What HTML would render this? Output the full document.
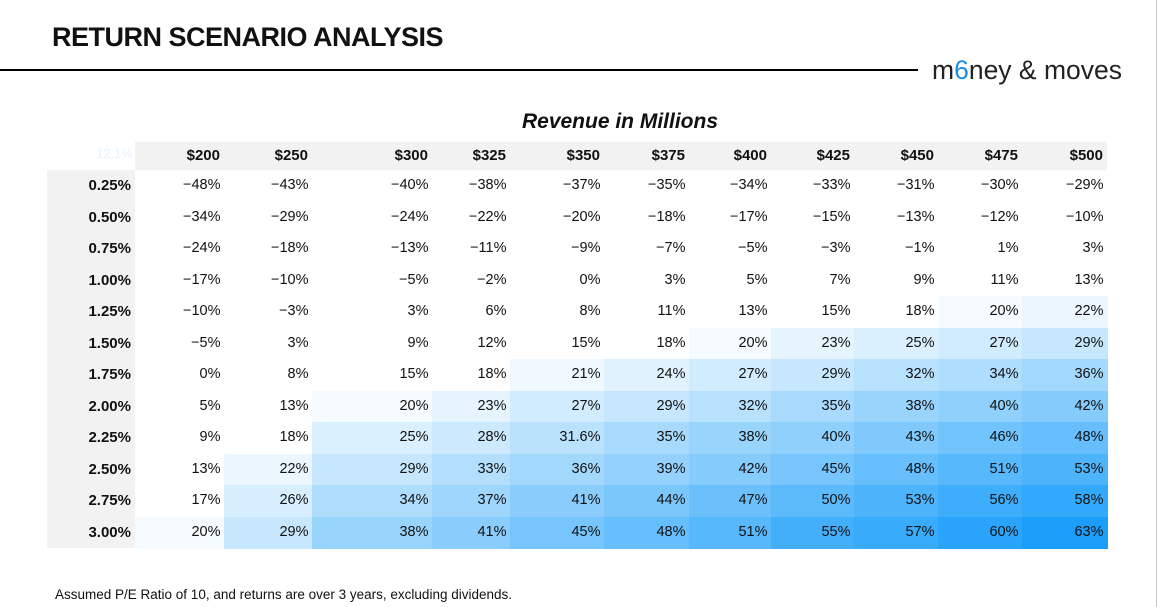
<!DOCTYPE html>
<html><head><meta charset="utf-8">
<style>
body{margin:0;width:1158px;height:607px;background:#fff;font-family:"Liberation Sans",sans-serif;position:relative;overflow:hidden;color:#111}
.abs{position:absolute}
.cell{position:absolute;text-align:right;box-sizing:border-box;padding-right:4px;font-size:14.5px;line-height:31.5px;white-space:nowrap}
</style></head><body>
<div class="abs" style="left:52px;top:22px;font-size:27px;font-weight:bold;letter-spacing:-0.5px">RETURN SCENARIO ANALYSIS</div>
<div class="abs" style="left:0;top:69px;width:918px;height:2px;background:#000"></div>
<div class="abs" style="left:932px;top:55px;font-size:26.5px;color:#222">m<span style="color:#1a8fe0">6</span>ney &amp; moves</div>
<div class="abs" style="left:1156px;top:0;width:1px;height:607px;background:#ccc"></div>
<div class="abs" style="left:420px;width:400px;top:110px;text-align:center;font-size:21px;font-weight:bold;font-style:italic">Revenue in Millions</div>
<div class="abs" style="left:-38px;top:332px;width:200px;text-align:center;font-size:21px;font-weight:bold;font-style:italic;transform:rotate(-90deg)">Net Income %</div>
<div class="abs" style="left:135px;top:142px;width:972px;height:28px;background:#f2f2f2"></div>
<div class="abs" style="left:47px;top:170px;width:88px;height:378px;background:#f2f2f2"></div>
<div class="abs" style="left:95px;top:146px;width:38px;text-align:right;font-size:13px;color:#e4f2ff">12.1%</div>
<div id="grid"></div>
<div class="abs" style="left:55px;top:587px;font-size:13.5px">Assumed P/E Ratio of 10, and returns are over 3 years, excluding dividends.</div>
<script>
const revenues=["$200","$250","$300","$325","$350","$375","$400","$425","$450","$475","$500"];
const margins=["0.25%","0.50%","0.75%","1.00%","1.25%","1.50%","1.75%","2.00%","2.25%","2.50%","2.75%","3.00%"];
const r025=[-48,-43,-40,-38,-37,-35,-34,-33,-31,-30,-29];
const r050=[-34,-29,-24,-22,-20,-18,-17,-15,-13,-12,-10];
const r075=[-24,-18,-13,-11,-9,-7,-5,-3,-1,1,3];
const r100=[-17,-10,-5,-2,0,3,5,7,9,11,13];
const r125=[-10,-3,3,6,8,11,13,15,18,20,22];
const r150=[-5,3,9,12,15,18,20,23,25,27,29];
const r175=[0,8,15,18,21,24,27,29,32,34,36];
const r200=[5,13,20,23,27,29,32,35,38,40,42];
const r225=[9,18,25,28,31.6,35,38,40,43,46,48];
const r250=[13,22,29,33,36,39,42,45,48,51,53];
const r275=[17,26,34,37,41,44,47,50,53,56,58];
const r300=[20,29,38,41,45,48,51,55,57,60,63];
const rows=[r025,r050,r075,r100,r125,r150,r175,r200,r225,r250,r275,r300];
const edges=[135,224,312,432,510,604,689,771,854,938,1022,1107];
const top0=170,rh=31.5;
const g=document.getElementById('grid');
function color(v){let t=Math.max(0,Math.min(1,(v-18)/45));
 return `rgb(${Math.round(255-t*229)},${Math.round(255-t*97)},${Math.round(255-t*5)})`;}
revenues.forEach((c,j)=>{const d=document.createElement('div');d.className='cell';


d.style.cssText=`left:${edges[j]}px;width:${edges[j+1]-edges[j]}px;top:142px;line-height:28px;font-weight:bold;font-size:15px`;d.textContent=c;g.appendChild(d);});
margins.forEach((m,i)=>{const d=document.createElement('div');d.className='cell';


d.style.cssText=`left:47px;width:88px;top:${top0+i*rh}px;font-weight:bold;font-size:15px`;d.textContent=m;g.appendChild(d);
rows[i].forEach((v,j)=>{const c=document.createElement('div');c.className='cell';


c.style.cssText=`left:${edges[j]}px;width:${edges[j+1]-edges[j]+0.5}px;top:${top0+i*rh}px;height:${rh+0.5}px;background:${color(v)}`;
c.textContent=(v<0?'−'+(-v):v)+'%';g.appendChild(c);});});
</script>
</body></html>
